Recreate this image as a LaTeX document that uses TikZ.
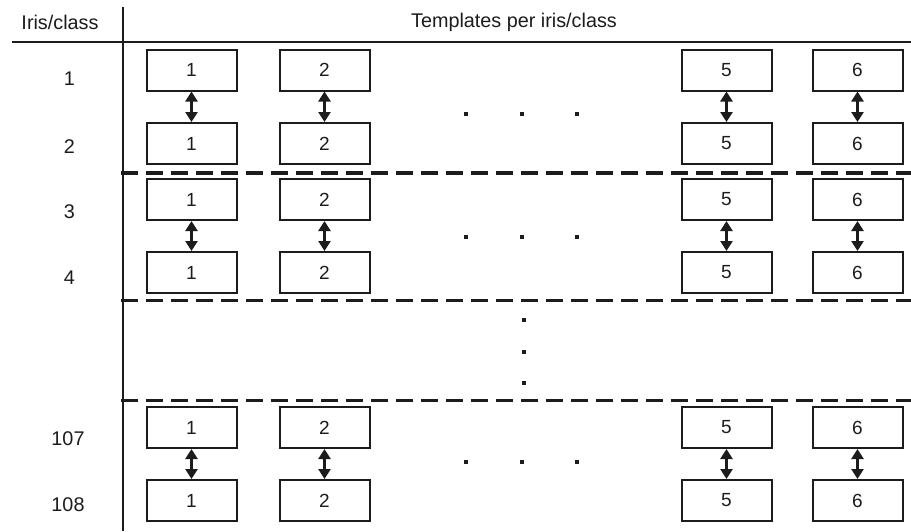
\documentclass[tikz,border=0pt]{standalone}
\usepackage{fontspec}
\setmainfont{Liberation Sans}
\usetikzlibrary{arrows.meta}
\definecolor{ink}{RGB}{30,27,28}
\begin{document}
\begin{tikzpicture}[x=1pt,y=-1pt,
  txt/.style={font=\fontsize{19.8}{23}\selectfont,text=ink,inner sep=0pt},
  tbox/.style={draw=ink,line width=2pt,minimum width=90pt,minimum height=41pt,inner sep=0pt,font=\fontsize{19}{22}\selectfont,text=ink},
  link/.style={draw=ink,line width=2.4pt,{Triangle[length=10pt,width=12pt]}-{Triangle[length=10pt,width=12pt]}},
  sep/.style={draw=ink,line width=3.6pt,dash pattern=on 17pt off 8pt},
  rule/.style={draw=ink,line width=2.2pt},
  dot/.style={fill=ink,minimum size=4.5pt,inner sep=0pt}]
\useasboundingbox (0,0) rectangle (911,531);
% header
\node[txt] (hdrA) at (60,22) {Iris/class};
\node[txt] (hdrB) at (514,22) {Templates per iris/class};
\coordinate (hl) at (12,42); \coordinate (hr) at (911,42);
\coordinate (vt) at (123,7); \coordinate (vb) at (123,531);
\draw[rule] (hl) -- (hr);
\draw[rule] (vt) -- (vb);
% row labels
\node[txt] (l1) at (69.5,79) {1};
\node[txt] (l2) at (69.5,147) {2};
\node[txt] (l3) at (69.5,212) {3};
\node[txt] (l4) at (69.5,278) {4};
\node[txt] (l107) at (68,439) {107};
\node[txt] (l108) at (68,505) {108};
% boxes
\foreach \r/\y in {a/70,b/143.5,c/199.5,d/272.5,e/427.5,f/500.5}{
  \node[tbox] (\r1) at (191.5,\y) {1};
  \node[tbox] (\r2) at (324.5,\y) {2};
  \node[tbox] (\r5) at (726.5,\y) {5};
  \node[tbox] (\r6) at (857.5,\y) {6};
}
% arrows
\foreach \u/\l in {a/b,c/d,e/f}{
  \foreach \k in {1,2,5,6}{
    \draw[link] (\u\k.south) -- (\l\k.north);
  }
}
% horizontal dots
\foreach \y [count=\i] in {114,237,462}{
  \node[dot] (hd\i a) at (466,\y) {};
  \node[dot] (hd\i b) at (522,\y) {};
  \node[dot] (hd\i c) at (577,\y) {};
}
% vertical dots
\node[dot] (vd1) at (524,320) {};
\node[dot] (vd2) at (524,352) {};
\node[dot] (vd3) at (524,383) {};
% dashed separators
\coordinate (s1l) at (121,173); \coordinate (s1r) at (911,173);
\coordinate (s2l) at (121,300.5); \coordinate (s2r) at (911,300.5);
\coordinate (s3l) at (121,400.5); \coordinate (s3r) at (911,400.5);
\draw[sep] (s1l) -- (s1r);
\draw[sep] (s2l) -- (s2r);
\draw[sep] (s3l) -- (s3r);
\end{tikzpicture}
\end{document}
